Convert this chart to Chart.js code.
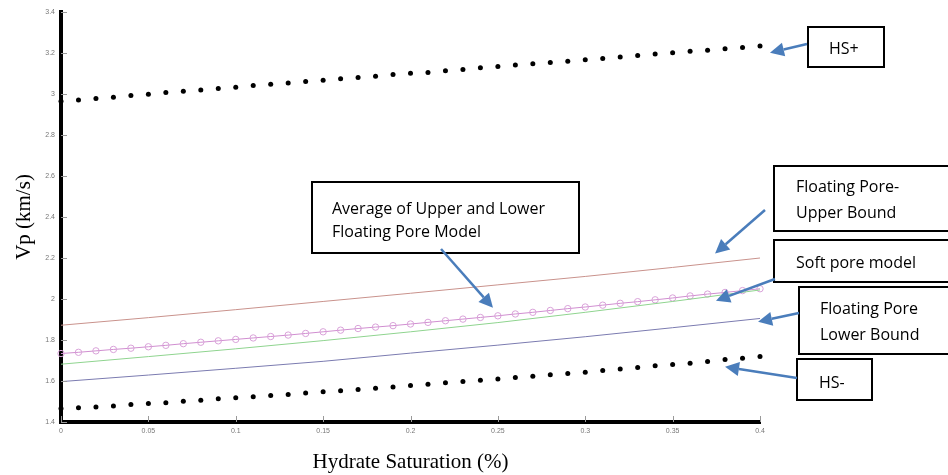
<!DOCTYPE html>
<html>
<head>
<meta charset="utf-8">
<script src="https://cdn.jsdelivr.net/npm/chart.js@4.4.1/dist/chart.umd.min.js"></script>
<style>
  html, body { margin: 0; padding: 0; background: #fff; }
  #wrap { width: 948px; height: 475px; }
</style>
</head>
<body>
<div id="wrap"><canvas id="vpChart" width="948" height="475"></canvas></div>
<script>
// hydrate saturation sampled every 0.01 (dotted / marker series)
const satFine = [0, 0.01, 0.02, 0.03, 0.04, 0.05, 0.06, 0.07, 0.08, 0.09,
  0.10, 0.11, 0.12, 0.13, 0.14, 0.15, 0.16, 0.17, 0.18, 0.19,
  0.20, 0.21, 0.22, 0.23, 0.24, 0.25, 0.26, 0.27, 0.28, 0.29,
  0.30, 0.31, 0.32, 0.33, 0.34, 0.35, 0.36, 0.37, 0.38, 0.39, 0.40];
// coarser sampling for the plain lines
const satCoarse = [0, 0.05, 0.10, 0.15, 0.20, 0.25, 0.30, 0.35, 0.40];

const hsPlus = [2.965, 2.971, 2.978, 2.984, 2.993, 2.999, 3.007, 3.014, 3.020, 3.027,
  3.033, 3.041, 3.048, 3.054, 3.061, 3.067, 3.074, 3.080, 3.087, 3.095,
  3.101, 3.105, 3.113, 3.120, 3.128, 3.134, 3.141, 3.148, 3.154, 3.160,
  3.167, 3.173, 3.180, 3.188, 3.195, 3.201, 3.208, 3.214, 3.221, 3.227, 3.234];
const hsMinus = [1.466, 1.470, 1.473, 1.478, 1.485, 1.490, 1.494, 1.501, 1.506, 1.513,
  1.518, 1.523, 1.529, 1.534, 1.541, 1.547, 1.553, 1.559, 1.565, 1.571,
  1.578, 1.584, 1.591, 1.597, 1.604, 1.610, 1.617, 1.623, 1.630, 1.636,
  1.643, 1.651, 1.659, 1.666, 1.674, 1.680, 1.687, 1.695, 1.705, 1.711, 1.719];
const avgFloating = [1.734, 1.740, 1.747, 1.754, 1.760, 1.767, 1.774, 1.782, 1.789, 1.796,
  1.803, 1.810, 1.817, 1.824, 1.832, 1.840, 1.848, 1.856, 1.863, 1.870,
  1.878, 1.886, 1.894, 1.902, 1.910, 1.918, 1.927, 1.935, 1.944, 1.953,
  1.961, 1.970, 1.979, 1.987, 1.996, 2.005, 2.015, 2.024, 2.032, 2.041, 2.050];
const upperFloating = [1.872, 1.909, 1.948, 1.988, 2.028, 2.069, 2.110, 2.154, 2.200];
const softPore = [1.682, 1.719, 1.757, 1.797, 1.840, 1.885, 1.935, 1.988, 2.044];
const lowerFloating = [1.597, 1.629, 1.662, 1.696, 1.736, 1.775, 1.816, 1.860, 1.905];

const xTickLabels = ['0', '0.05', '0.1', '0.15', '0.2', '0.25', '0.3', '0.35', '0.4'];
const yTickLabels = ['1.4', '1.6', '1.8', '2', '2.2', '2.4', '2.6', '2.8', '3', '3.2', '3.4'];

const pts = (xs, ys) => xs.map((x, i) => ({ x: x, y: ys[i] }));

// callout boxes (pixel layout) and arrow tips (data units)
const callouts = [
  { lines: ['HS+'], box: [808, 27, 884, 67], tx: 829, ty: [49], tail: [807, 44], tip: [0.4057, 3.201] },
  { lines: ['Floating Pore-', 'Upper Bound'], box: [774, 166, 952, 231], tx: 796, ty: [187, 213], tail: [765, 210], tip: [0.3743, 2.222] },
  { lines: ['Soft pore model'], box: [774, 240, 952, 282], tx: 796, ty: [263], tail: [775, 279], tip: [0.3748, 1.992] },
  { lines: ['Floating Pore', 'Lower Bound'], box: [799, 287, 952, 354], tx: 820, ty: [309, 335], tail: [799, 313], tip: [0.3989, 1.889] },
  { lines: ['HS-'], box: [797, 359, 872, 400], tx: 819, ty: [383], tail: [797, 378], tip: [0.380, 1.669] },
  { lines: ['Average of Upper and Lower', 'Floating Pore Model'], box: [312, 182, 579, 253], tx: 332, ty: [209, 232], tail: [441, 249], tip: [0.2472, 1.957] }
];

function drawArrow(ctx, x1, y1, x2, y2) {
  const a = Math.atan2(y2 - y1, x2 - x1);
  const L = 14, W = 7;
  const bx = x2 - L * Math.cos(a), by = y2 - L * Math.sin(a);
  ctx.beginPath();
  ctx.moveTo(x1, y1);
  ctx.lineTo(bx, by);
  ctx.stroke();
  ctx.beginPath();
  ctx.moveTo(x2, y2);
  ctx.lineTo(bx + W * Math.sin(a), by - W * Math.cos(a));
  ctx.lineTo(bx - W * Math.sin(a), by + W * Math.cos(a));
  ctx.closePath();
  ctx.fill();
}

const tickMarks = {
  id: 'tickMarks',
  afterDraw(chart) {
    const { ctx, chartArea } = chart;
    const xs = chart.scales.x, ys = chart.scales.y;
    ctx.save();
    ctx.strokeStyle = '#999';
    ctx.lineWidth = 1;
    xs.ticks.forEach(t => {
      const px = Math.round(xs.getPixelForValue(t.value)) + 0.5;
      ctx.beginPath(); ctx.moveTo(px, chartArea.bottom); ctx.lineTo(px, chartArea.bottom - 6); ctx.stroke();
    });
    ys.ticks.forEach(t => {
      const py = Math.round(ys.getPixelForValue(t.value)) + 0.5;
      ctx.beginPath(); ctx.moveTo(chartArea.left, py); ctx.lineTo(chartArea.left + 6, py); ctx.stroke();
    });
    ctx.restore();
  }
};

const calloutPlugin = {
  id: 'callouts',
  afterDraw(chart) {
    const ctx = chart.ctx;
    const xs = chart.scales.x, ys = chart.scales.y;
    ctx.save();
    callouts.forEach(c => {
      const [l, t, r, b] = c.box;
      ctx.fillStyle = '#fff';
      ctx.fillRect(l, t, r - l, b - t);
      ctx.strokeStyle = '#000';
      ctx.lineWidth = 2;
      ctx.strokeRect(l, t, r - l, b - t);
      ctx.fillStyle = '#000';
      ctx.font = '16px "Open Sans"';
      ctx.textBaseline = 'middle';
      ctx.textAlign = 'left';
      c.lines.forEach((s, i) => ctx.fillText(s, c.tx, c.ty[i]));
      ctx.strokeStyle = '#4a7dbb';
      ctx.fillStyle = '#4a7dbb';
      ctx.lineWidth = 2.5;
      drawArrow(ctx, c.tail[0], c.tail[1], xs.getPixelForValue(c.tip[0]), ys.getPixelForValue(c.tip[1]));
    });
    ctx.restore();
  }
};

new Chart(document.getElementById('vpChart'), {
  type: 'scatter',
  data: {
    datasets: [
      { data: pts(satCoarse, upperFloating), showLine: true, borderColor: '#c9928c', borderWidth: 1, pointRadius: 0 },
      { data: pts(satCoarse, softPore), showLine: true, borderColor: '#8fd48f', borderWidth: 1, pointRadius: 0 },
      { data: pts(satCoarse, lowerFloating), showLine: true, borderColor: '#7b7bb0', borderWidth: 1, pointRadius: 0 },
      { data: pts(satFine, avgFloating), showLine: true, borderColor: '#d08ed0', borderWidth: 1,
        pointRadius: 3.2, pointBorderColor: '#d9a2d9', pointBackgroundColor: 'rgba(255,255,255,0)', pointBorderWidth: 1 },
      { data: pts(satFine, hsPlus), pointRadius: 2.5, pointBackgroundColor: '#000', pointBorderWidth: 0 },
      { data: pts(satFine, hsMinus), pointRadius: 2.5, pointBackgroundColor: '#000', pointBorderWidth: 0 }
    ]
  },
  options: {
    responsive: false,
    animation: false,
    devicePixelRatio: 1,
    layout: { padding: { top: 12, right: 188, left: 0, bottom: 0 } },
    plugins: { legend: { display: false }, tooltip: { enabled: false } },
    elements: { line: { tension: 0 } },
    datasets: { scatter: { clip: 6 } },
    scales: {
      x: {
        type: 'linear', min: 0, max: 0.4,
        grid: { display: false, drawTicks: false },
        border: { color: '#000', width: 4 },
        ticks: {
          stepSize: 0.05, color: '#777', padding: 5,
          font: { family: 'Liberation Sans', size: 7 },
          callback: (v, i) => xTickLabels[i]
        },
        title: { display: true, text: 'Hydrate Saturation (%)', color: '#000',
          font: { family: 'Liberation Serif', size: 21 }, padding: { top: 0, bottom: 0 } },
        afterFit: s => { s.height = 53; }
      },
      y: {
        type: 'linear', min: 1.4, max: 3.4,
        grid: { display: false, drawTicks: false },
        border: { color: '#000', width: 4 },
        ticks: {
          stepSize: 0.2, color: '#777', padding: 6,
          font: { family: 'Liberation Sans', size: 7 },
          callback: (v, i) => yTickLabels[i]
        },
        title: { display: true, text: 'Vp (km/s)', color: '#000',
          font: { family: 'Liberation Serif', size: 21 }, padding: { top: 12, bottom: 0 } },
        afterFit: s => { s.width = 61; }
      }
    }
  },
  plugins: [tickMarks, calloutPlugin]
});
</script>
</body>
</html>
